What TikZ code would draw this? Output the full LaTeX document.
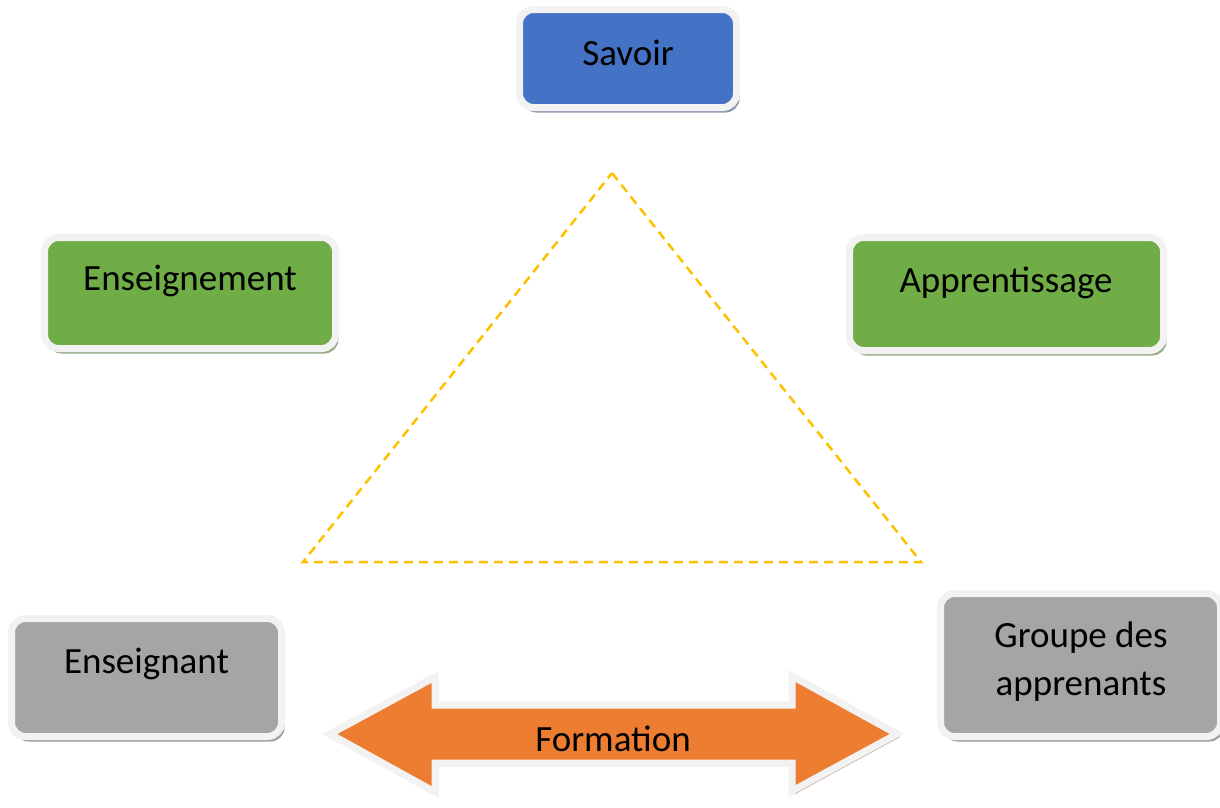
\documentclass[tikz,border=0pt]{standalone}
\usepackage{fontspec}
\setmainfont{Carlito}
\usetikzlibrary{shadows}
\definecolor{frameW}{HTML}{F2F2F2}
\definecolor{cBlue}{HTML}{4472C4}
\definecolor{cGreen}{HTML}{70AD47}
\definecolor{cGray}{HTML}{A5A5A5}
\definecolor{cOrange}{HTML}{ED7D31}
\definecolor{cGold}{HTML}{FFC000}
\definecolor{shBlue}{HTML}{8D99AE}
\definecolor{shGreen}{HTML}{98AC8A}
\definecolor{shGray}{HTML}{9E9E9E}
\definecolor{shOrange}{HTML}{C49A80}
\tikzset{
  boxbase/.style={rectangle, draw=frameW, line width=7pt, rounded corners=14pt, inner sep=0pt},
  bluebox/.style={boxbase, fill=cBlue, drop shadow={shadow xshift=3pt, shadow yshift=-5pt, fill=shBlue, opacity=1}},
  greenbox/.style={boxbase, fill=cGreen, drop shadow={shadow xshift=3pt, shadow yshift=-5pt, fill=shGreen, opacity=1}},
  graybox/.style={boxbase, fill=cGray, drop shadow={shadow xshift=3pt, shadow yshift=-5pt, fill=shGray, opacity=1}},
  lbl/.style={anchor=base, inner sep=0pt, font=\fontsize{37}{48}\selectfont, align=center},
  tri/.style={draw=cGold, line width=2.5pt, dash pattern=on 9pt off 6pt},
  arrowshape/.style={fill=cOrange, draw=frameW, line width=7pt, line join=miter,
     drop shadow={shadow xshift=3pt, shadow yshift=-3pt, fill=shOrange, opacity=1}}
}
\begin{document}
\begin{tikzpicture}[x=1pt,y=-1pt]
\useasboundingbox (0,0) rectangle (1220,807);
% triangle
\coordinate (ta) at (612,173);
\coordinate (tb) at (303,562);
\coordinate (tc) at (921,562);
\draw[tri] (ta) -- (tc) -- (tb) -- cycle;
% boxes
\node[bluebox, minimum width=217pt, minimum height=98pt] (savoir) at (628,58.5) {};
\node[greenbox, minimum width=291pt, minimum height=111pt] (enseignement) at (190,293) {};
\node[greenbox, minimum width=314pt, minimum height=113pt] (apprentissage) at (1006.5,294) {};
\node[graybox, minimum width=270pt, minimum height=118pt] (enseignant) at (146.5,677.5) {};
\node[graybox, minimum width=280pt, minimum height=143pt] (groupe) at (1080.5,665) {};
% labels
\node[lbl] (savoirT) at (628,65) {Savoir};
\node[lbl] (enseignementT) at (190,290) {Enseignement};
\node[lbl] (apprentissageT) at (1006,292) {Apprentissage};
\node[lbl] (enseignantT) at (146.5,673) {Enseignant};
\node[lbl] (groupeT) at (1081,695) {Groupe des\\apprenants};
% double arrow
\path[arrowshape] (330,734) -- (435,677) -- (435,705) -- (792,705) -- (792,676)
  -- (897,734) -- (792,791) -- (792,763) -- (435,763) -- (435,792) -- cycle;
\node[lbl] (formationT) at (613,751) {Formation};
\end{tikzpicture}
\end{document}
